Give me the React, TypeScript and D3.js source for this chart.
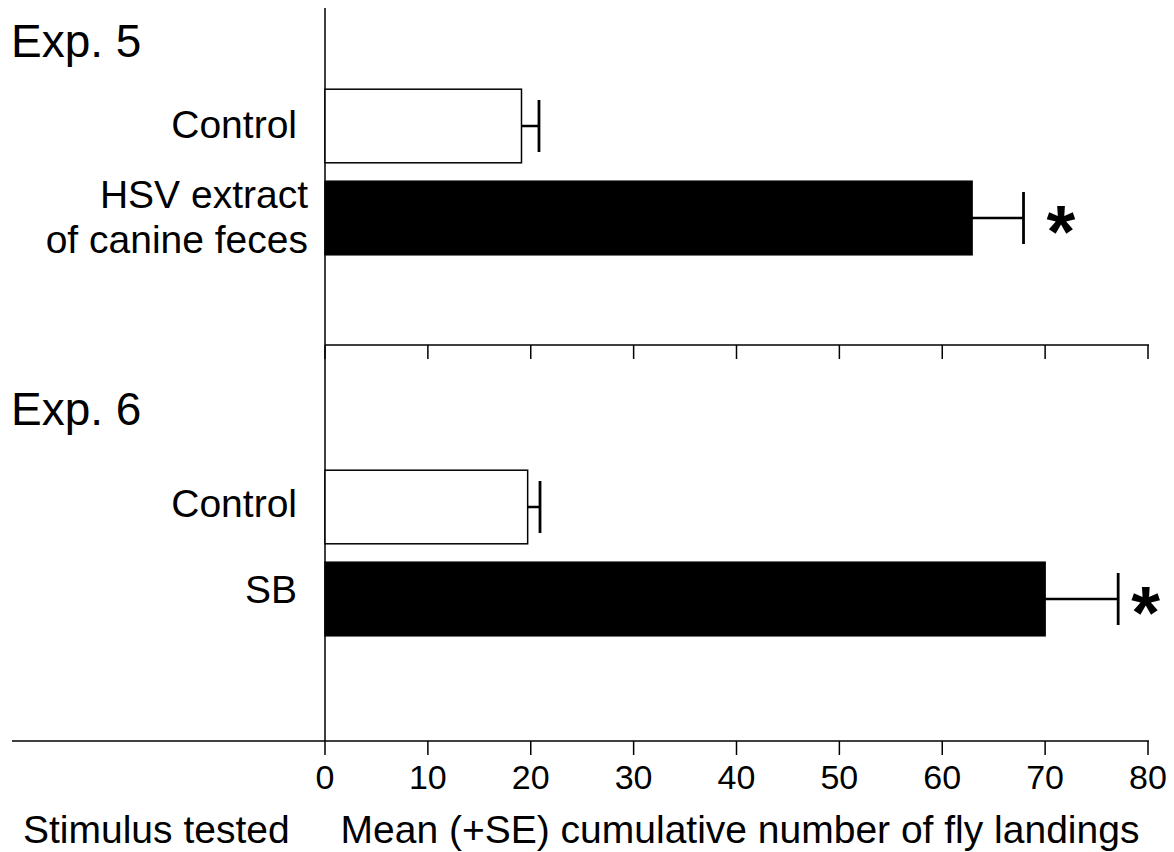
import React from "react";
import * as d3 from "d3";

const exp5Categories = ["Control", "HSV extract of canine feces"];
const exp5Means = [19.1, 62.9];
const exp5SE = [1.7, 5.0];
const exp5Sig = [false, true];

const exp6Categories = ["Control", "SB"];
const exp6Means = [19.7, 70.0];
const exp6SE = [1.2, 7.1];
const exp6Sig = [false, true];

const xTicks = [0, 10, 20, 30, 40, 50, 60, 70, 80];

const FONT = "Liberation Sans, Arial, sans-serif";

export default function App() {
  const W = 1174, H = 852;
  const x = d3.scaleLinear().domain([0, 80]).range([325, 1148]);

  const y5 = d3.scaleBand<string>().domain(exp5Categories).range([80, 264]).paddingInner(0.2).paddingOuter(0.1);
  const y6 = d3.scaleBand<string>().domain(exp6Categories).range([461, 645]).paddingInner(0.2).paddingOuter(0.1);

  const panel = (
    cats: string[], means: number[], se: number[], sig: boolean[],
    y: d3.ScaleBand<string>, key: string, starGap: number
  ) => cats.map((c, i) => {
    const y0 = y(c)!;
    const bh = y.bandwidth();
    const cy = y0 + bh / 2;
    const filled = i === 1;
    const xe = x(means[i] + se[i]);
    return (
      <g key={key + i}>
        <rect x={x(0)} y={y0} width={x(means[i]) - x(0)} height={bh}
          fill={filled ? "#000" : "#fff"} stroke="#000" strokeWidth={1.5} />
        <line x1={x(means[i])} x2={xe} y1={cy} y2={cy} stroke="#000" strokeWidth={2.5} />
        <line x1={xe} x2={xe} y1={cy - 26} y2={cy + 26} stroke="#000" strokeWidth={2.8} />
        {sig[i] && (
          <text x={xe + starGap} y={cy + 39} fontFamily={FONT} fontWeight="bold" fontSize={74}>*</text>
        )}
      </g>
    );
  });

  const axis = (yPos: number, left: number, labels: boolean) => (
    <g>
      <line x1={left} x2={x(80) + 1} y1={yPos} y2={yPos} stroke="#000" strokeWidth={1.5} />
      {xTicks.map((t) => (
        <g key={t}>
          <line x1={x(t)} x2={x(t)} y1={yPos} y2={yPos + 14} stroke="#000" strokeWidth={1.5} />
          {labels && (
            <text x={x(t)} y={789} textAnchor="middle" fontFamily={FONT} fontSize={34}>{t}</text>
          )}
        </g>
      ))}
    </g>
  );

  const labelStyle = { fontFamily: FONT, fontSize: 39 } as const;

  return (
    <svg width={W} height={H} style={{ position: "absolute", left: 0, top: 0, background: "#fff" }}>
      <rect width={W} height={H} fill="#fff" />
      <line x1={x(0)} x2={x(0)} y1={8} y2={741} stroke="#000" strokeWidth={1.5} />
      {axis(345, x(0), false)}
      {axis(741, 12, true)}
      {panel(exp5Categories, exp5Means, exp5SE, exp5Sig, y5, "a", 23)}
      {panel(exp6Categories, exp6Means, exp6SE, exp6Sig, y6, "b", 13)}

      <text x={11} y={57} fontFamily={FONT} fontSize={46}>Exp. 5</text>
      <text x={297} y={138} textAnchor="end" {...labelStyle}>Control</text>
      <text x={308} y={208} textAnchor="end" {...labelStyle}>HSV extract</text>
      <text x={308} y={253} textAnchor="end" {...labelStyle}>of canine feces</text>

      <text x={11} y={425} fontFamily={FONT} fontSize={46}>Exp. 6</text>
      <text x={297} y={517} textAnchor="end" {...labelStyle}>Control</text>
      <text x={297} y={603} textAnchor="end" {...labelStyle}>SB</text>

      <text x={23} y={843} fontFamily={FONT} fontSize={39}>Stimulus tested</text>
      <text x={740} y={843} textAnchor="middle" fontFamily={FONT} fontSize={39}>Mean (+SE) cumulative number of fly landings</text>
    </svg>
  );
}
